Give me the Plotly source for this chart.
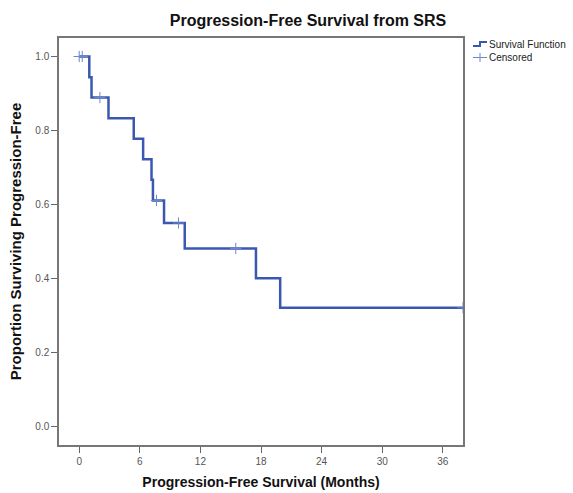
import plotly.graph_objects as go

# Kaplan-Meier step function (months, proportion progression-free)
step_times = [0, 1.0, 1.22, 2.9, 5.4, 6.33, 7.16, 7.3, 8.4, 10.45, 17.5, 19.9, 38]
step_surv = [1.0, 0.944, 0.889, 0.833, 0.778, 0.722, 0.667, 0.611, 0.550, 0.481, 0.401, 0.321, 0.321]

# Censored observations
cens_times = [0, 0.3, 2.05, 7.65, 9.83, 15.5, 38]
cens_surv = [1.0, 1.0, 0.889, 0.611, 0.550, 0.481, 0.321]

x_ticks = [0, 6, 12, 18, 24, 30, 36]
y_ticks = [0.0, 0.2, 0.4, 0.6, 0.8, 1.0]
legend_labels = ["Survival Function", "Censored"]

LINE = "#3B58B0"
CENS = "#6F86CC"
FONT = "Liberation Sans, Arial, sans-serif"

W, H = 573, 493
L, R, T, B = 59, 110, 38, 48
PW, PH = W - L - R, H - T - B


def px_x(px):
    return (px - L) / PW


def px_y(py):
    return (H - B - py) / PH


fig = go.Figure()
fig.add_trace(go.Scatter(
    x=step_times, y=step_surv, mode="lines", line_shape="hv",
    line=dict(color=LINE, width=2.5), name=legend_labels[0],
    hoverinfo="skip", showlegend=False))
fig.add_trace(go.Scatter(
    x=cens_times, y=cens_surv, mode="markers",
    marker=dict(symbol="cross-thin-open", size=8, color=CENS, line=dict(color=CENS, width=1)),
    name=legend_labels[1], hoverinfo="skip", showlegend=False))

# Hand-drawn legend (SPSS style)
shapes = [
    dict(type="path", xref="paper", yref="paper",
         path=f"M {px_x(473)} {px_y(46)} L {px_x(480)} {px_y(46)} L {px_x(480)} {px_y(42)} L {px_x(487)} {px_y(42)}",
         line=dict(color=LINE, width=2)),
    dict(type="line", xref="paper", yref="paper", x0=px_x(473), x1=px_x(487), y0=px_y(57.5), y1=px_y(57.5),
         line=dict(color=CENS, width=1)),
    dict(type="line", xref="paper", yref="paper", x0=px_x(480), x1=px_x(480), y0=px_y(53), y1=px_y(62),
         line=dict(color=CENS, width=1)),
]
annotations = [
    dict(text=legend_labels[0], xref="paper", yref="paper", x=px_x(487), y=px_y(45),
         xanchor="left", yanchor="middle", showarrow=False, font=dict(size=10, color="#222")),
    dict(text=legend_labels[1], xref="paper", yref="paper", x=px_x(487), y=px_y(58),
         xanchor="left", yanchor="middle", showarrow=False, font=dict(size=10, color="#222")),
]

fig.update_layout(
    width=W, height=H,
    margin=dict(l=L, r=R, t=T, b=B, autoexpand=False),
    paper_bgcolor="white", plot_bgcolor="white",
    font=dict(family=FONT, size=10, color="#333"),
    title=dict(text="<b>Progression-Free Survival from SRS</b>",
               x=308 / W, xanchor="center", y=1 - 20 / H, yanchor="middle",
               font=dict(size=16, color="#111", family=FONT)),
    showlegend=False,
    shapes=shapes, annotations=annotations,
)
fig.update_xaxes(
    range=[-2, 38], tickvals=x_ticks, ticks="outside", ticklen=6, tickcolor="#666",
    showgrid=False, zeroline=False, showline=True, linecolor="#777", linewidth=1.5,
    mirror=True, tickfont=dict(size=10, color="#555"), automargin=False,
    title=dict(text="<b>Progression-Free Survival (Months)</b>", font=dict(size=14, color="#111"),
               standoff=11))
fig.update_yaxes(
    range=[-0.05, 1.05], tickvals=y_ticks, tickformat=".1f", ticks="outside", ticklen=6,
    tickcolor="#666", showgrid=False, zeroline=False, showline=True, linecolor="#777",
    linewidth=1.5, mirror=True, tickfont=dict(size=10, color="#555"), automargin=False,
    title=dict(text="<b>Proportion Surviving Progression-Free</b>", font=dict(size=15, color="#111"),
               standoff=10))

fig.write_html("out.html", config={"displayModeBar": False},
               post_script="document.body.style.margin='0';document.body.style.overflow='hidden';")
